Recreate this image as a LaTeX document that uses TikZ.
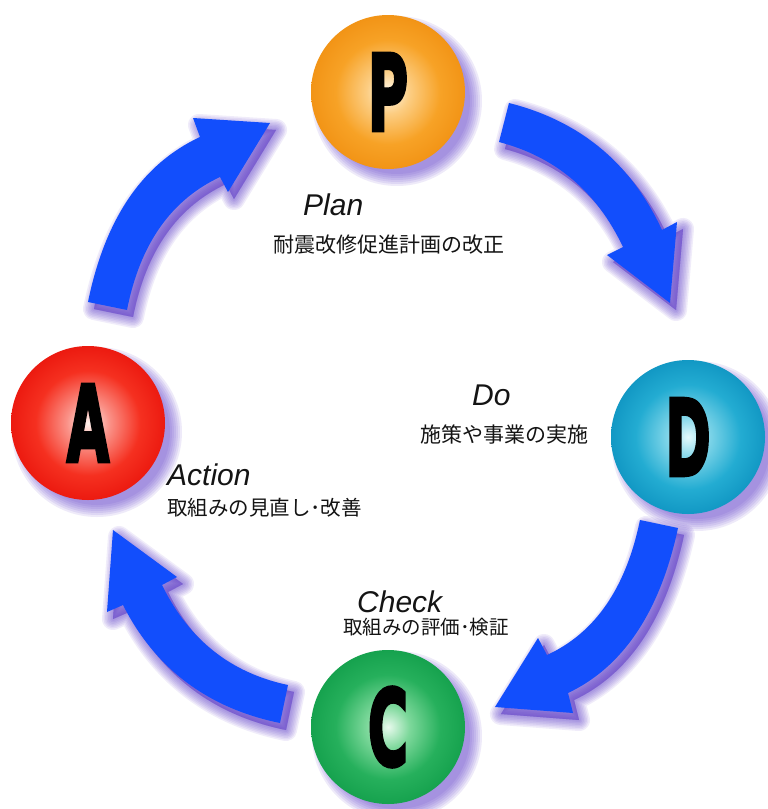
\documentclass[tikz,border=0pt]{standalone}
\usepackage{fontspec}
\usepackage{graphicx}
\setmainfont{Liberation Sans}
\newfontfamily\jpfont{Noto Sans CJK JP}
\newfontfamily\letterfont{DejaVu Sans}[BoldFont={DejaVu Sans Bold}, BoldFeatures={FakeBold=4}]
\definecolor{arrowblue}{RGB}{18,78,252}
\definecolor{shadowc}{RGB}{90,55,200}
\definecolor{txt}{RGB}{20,20,20}
\definecolor{Pin}{RGB}{255,248,232}\definecolor{Pmid}{RGB}{252,205,130}\definecolor{Pout}{RGB}{247,162,38}\definecolor{Pedge}{RGB}{242,148,22}
\definecolor{Din}{RGB}{228,250,253}\definecolor{Dmid}{RGB}{125,212,232}\definecolor{Dout}{RGB}{35,172,210}\definecolor{Dedge}{RGB}{18,152,196}
\definecolor{Cin}{RGB}{232,250,237}\definecolor{Cmid}{RGB}{125,216,155}\definecolor{Cout}{RGB}{38,176,92}\definecolor{Cedge}{RGB}{22,162,78}
\definecolor{Ain}{RGB}{255,242,238}\definecolor{Amid}{RGB}{250,145,135}\definecolor{Aout}{RGB}{245,48,32}\definecolor{Aedge}{RGB}{236,26,16}
\pgfdeclareradialshading{ballP}{\pgfpoint{0bp}{0bp}}{color(0bp)=(Pin); color(7bp)=(Pmid); color(17bp)=(Pout); color(25bp)=(Pedge); color(50bp)=(Pedge)}
\pgfdeclareradialshading{ballD}{\pgfpoint{0bp}{0bp}}{color(0bp)=(Din); color(7bp)=(Dmid); color(17bp)=(Dout); color(25bp)=(Dedge); color(50bp)=(Dedge)}
\pgfdeclareradialshading{ballC}{\pgfpoint{0bp}{0bp}}{color(0bp)=(Cin); color(7bp)=(Cmid); color(17bp)=(Cout); color(25bp)=(Cedge); color(50bp)=(Cedge)}
\pgfdeclareradialshading{ballA}{\pgfpoint{0bp}{0bp}}{color(0bp)=(Ain); color(7bp)=(Amid); color(17bp)=(Aout); color(25bp)=(Aedge); color(50bp)=(Aedge)}
\newcommand\arrowPD[1]{\path[#1] (509,103) .. controls (580,121) and (631,163) .. (662,230) -- (677,222) -- (670,303) -- (607,255) -- (623,247) .. controls (597,192) and (556,157) .. (499,142) -- cycle;}
\newcommand\arrowDC[1]{\path[#1] (678,528) .. controls (660,612) and (623,667) .. (568,693) -- (573,713) -- (495,707) -- (538,638) -- (547,655) .. controls (595,633) and (626,588) .. (640,520) -- cycle;}
\newcommand\arrowCA[1]{\path[#1] (280,723) .. controls (207,708) and (155,668) .. (123,605) -- (107,612) -- (113,530) -- (177,577) -- (162,585) .. controls (189,640) and (231,673) .. (288,685) -- cycle;}
\newcommand\arrowAP[1]{\path[#1] (88,302) .. controls (105,219) and (142,164) .. (200,137) -- (193,118) -- (270,123) -- (228,192) -- (220,177) .. controls (171,200) and (140,244) .. (127,310) -- cycle;}
\tikzset{
  ball/.style={circle, minimum size=154pt, inner sep=0pt, font=\letterfont\bfseries\fontsize{105}{105}\selectfont, text=black},
  glow/.style={fill=shadowc, draw=shadowc, line join=round, shift={(6,7)}},
  lbl/.style={font=\itshape\fontsize{30}{30}\selectfont, anchor=base west, inner sep=0pt, text=txt},
  jp/.style={font=\jpfont\fontsize{21}{21}\selectfont, anchor=west, inner sep=0pt, text=txt}
}
\begin{document}
\begin{tikzpicture}[x=1pt,y=-1pt]
\fill[white] (0,0) rectangle (768,809);
\useasboundingbox (0,0) rectangle (768,809);
\coordinate (cP) at (388,92);
\coordinate (cD) at (688,437);
\coordinate (cC) at (388,727);
\coordinate (cA) at (88,423);
% arrow glows
\foreach \w in {22,19,16,13,10,7,4,1}{
  \arrowPD{glow, line width=\w pt, opacity=0.09}
  \arrowDC{glow, line width=\w pt, opacity=0.09}
  \arrowCA{glow, line width=\w pt, opacity=0.09}
  \arrowAP{glow, line width=\w pt, opacity=0.09}
}
% circle glows
\foreach \r in {85,83,81,79,77,75,73}{
  \fill[shadowc, opacity=0.1] ([shift={(9,9)}]cP) circle (\r);
  \fill[shadowc, opacity=0.1] ([shift={(9,9)}]cD) circle (\r);
  \fill[shadowc, opacity=0.1] ([shift={(9,9)}]cC) circle (\r);
  \fill[shadowc, opacity=0.1] ([shift={(9,9)}]cA) circle (\r);
}
% arrows
\arrowPD{fill=arrowblue}
\arrowDC{fill=arrowblue}
\arrowCA{fill=arrowblue}
\arrowAP{fill=arrowblue}
% circles
\node[ball, shading=ballP] (P) at (cP) {\raisebox{-7pt}{\scalebox{0.52}[1]{P}}};
\node[ball, shading=ballD] (D) at (cD) {\scalebox{0.52}[1]{D}};
\node[ball, shading=ballC] (C) at (cC) {\scalebox{0.52}[1]{C}};
\node[ball, shading=ballA] (A) at (cA) {\scalebox{0.52}[1]{A}};
% labels
\node[lbl] (plan) at (303,215) {Plan};
\node[jp] (planjp) at (273,245) {耐震改修促進計画の改正};
\node[lbl] (do) at (472,405) {Do};
\node[jp] (dojp) at (420,435) {施策や事業の実施};
\node[lbl] (action) at (167,485) {Action};
\node[jp, font=\jpfont\fontsize{20.5}{20.5}\selectfont] (actionjp) at (167,508) {取組みの見直し･改善};
\node[lbl] (check) at (357,612) {Check};
\node[jp, font=\jpfont\fontsize{19.5}{19.5}\selectfont] (checkjp) at (343,627) {取組みの評価･検証};
\end{tikzpicture}
\end{document}
